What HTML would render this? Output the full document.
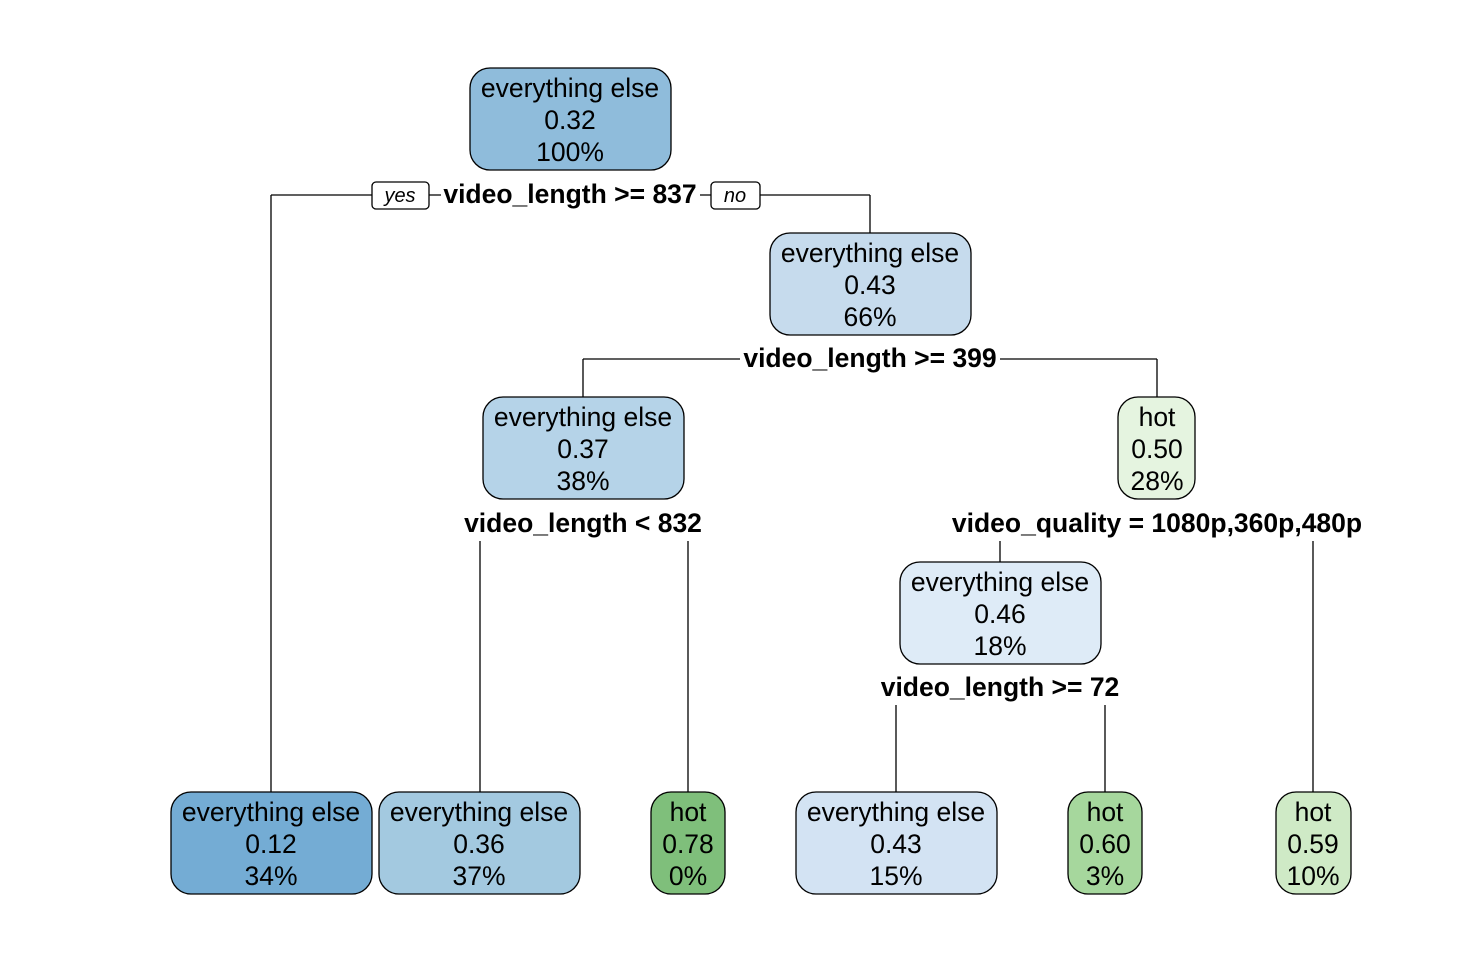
<!DOCTYPE html>
<html><head><style>body{margin:0;background:#fff}svg{display:block}</style></head><body>
<svg width="1476" height="980" xmlns="http://www.w3.org/2000/svg" font-family="Liberation Sans, Arial, sans-serif">
<g stroke="#000" stroke-width="1.3" fill="none">
<path d="M271 195H870M271 195V792M870 195V233"/>
<path d="M583 359H1157M583 359V397M1157 359V397"/>
<path d="M480 541V792M688 541V792"/>
<path d="M1000 541V562M1313 541V792"/>
<path d="M896 705V792M1105 705V792"/>
</g>
<g stroke="#000" stroke-width="1.3">
<rect x="470" y="68" width="201" height="102" rx="20" fill="#8fbcdb"/>
<rect x="770" y="233" width="201" height="102" rx="20" fill="#c6dbed"/>
<rect x="483" y="397" width="201" height="102" rx="20" fill="#b5d3e8"/>
<rect x="1118" y="397" width="77" height="102" rx="20" fill="#e5f4e0"/>
<rect x="900" y="562" width="201" height="102" rx="20" fill="#deebf7"/>
<rect x="171" y="792" width="201" height="102" rx="20" fill="#74acd4"/>
<rect x="379" y="792" width="201" height="102" rx="20" fill="#a3c9e0"/>
<rect x="651" y="792" width="74" height="102" rx="20" fill="#7fbf7b"/>
<rect x="796" y="792" width="201" height="102" rx="20" fill="#d3e3f3"/>
<rect x="1068" y="792" width="74" height="102" rx="20" fill="#a6d79d"/>
<rect x="1276" y="792" width="75" height="102" rx="20" fill="#cfeac6"/>
</g>
<g font-size="26.5" text-anchor="middle" fill="#000">
<text x="570" y="97">everything else</text><text x="570" y="129">0.32</text><text x="570" y="161">100%</text>
<text x="870" y="262">everything else</text><text x="870" y="294">0.43</text><text x="870" y="326">66%</text>
<text x="583" y="426">everything else</text><text x="583" y="458">0.37</text><text x="583" y="490">38%</text>
<text x="1157" y="426">hot</text><text x="1157" y="458">0.50</text><text x="1157" y="490">28%</text>
<text x="1000" y="591">everything else</text><text x="1000" y="623">0.46</text><text x="1000" y="655">18%</text>
<text x="271" y="821">everything else</text><text x="271" y="853">0.12</text><text x="271" y="885">34%</text>
<text x="479" y="821">everything else</text><text x="479" y="853">0.36</text><text x="479" y="885">37%</text>
<text x="688" y="821">hot</text><text x="688" y="853">0.78</text><text x="688" y="885">0%</text>
<text x="896" y="821">everything else</text><text x="896" y="853">0.43</text><text x="896" y="885">15%</text>
<text x="1105" y="821">hot</text><text x="1105" y="853">0.60</text><text x="1105" y="885">3%</text>
<text x="1313" y="821">hot</text><text x="1313" y="853">0.59</text><text x="1313" y="885">10%</text>
</g>
<rect x="441" y="180" width="259" height="30" fill="#fff"/>
<rect x="740" y="344" width="260" height="30" fill="#fff"/>
<g stroke="#000" stroke-width="1.3">
<rect x="372" y="182" width="57" height="27" rx="4" fill="#fff"/>
<rect x="711" y="182" width="49" height="27" rx="4" fill="#fff"/>
</g>
<g font-size="26.5" font-weight="bold" text-anchor="middle">
<text x="570" y="203">video_length &gt;= 837</text>
<text x="870" y="367">video_length &gt;= 399</text>
<text x="583" y="532">video_length &lt; 832</text>
<text x="1157" y="532">video_quality = 1080p,360p,480p</text>
<text x="1000" y="696">video_length &gt;= 72</text>
</g>
<g font-size="20" font-style="italic" text-anchor="middle">
<text x="400" y="202">yes</text><text x="735" y="202">no</text>
</g>
</svg>
</body></html>
